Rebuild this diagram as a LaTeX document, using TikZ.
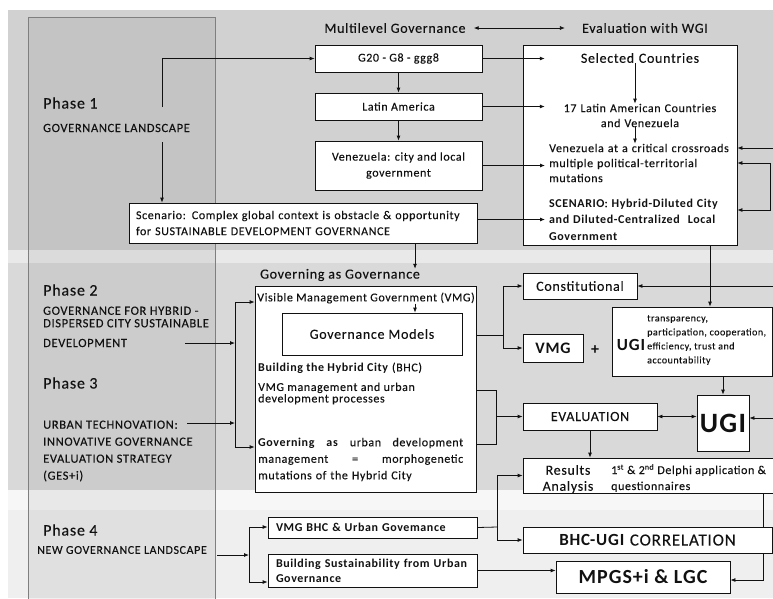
\documentclass[tikz,border=0pt]{standalone}
\usepackage{fontspec}
\setmainfont{Carlito}[LetterSpace=5, UprightFeatures={FakeBold=0.12}]
\usepackage{tikz}
\usetikzlibrary{arrows.meta,calc}
\definecolor{ink}{HTML}{111111}
\definecolor{bandA}{HTML}{D1D1D1}
\definecolor{bandB}{HTML}{D9D9D9}
\definecolor{bandC}{HTML}{EFEFEF}
\definecolor{gapA}{HTML}{E9E9E9}
\definecolor{gapB}{HTML}{F7F7F7}
\definecolor{frame}{HTML}{7F7F7F}
\newcommand\fsz[2]{\fontsize{#1}{#2}\selectfont}
\tikzset{
  box/.style={draw=ink, fill=white, line width=0.8pt, inner sep=0pt},
  txt/.style={inner sep=0pt, text=ink},
  wire/.style={draw=ink, line width=0.8pt},
  arr/.style={wire, -{Latex[length=5pt,width=4pt]}},
  darr/.style={wire, {Latex[length=5pt,width=4pt]}-{Latex[length=5pt,width=4pt]}},
  head/.style={txt, font=\fsz{14}{16}},
  body/.style={txt, font=\fsz{12}{15}},
  phase/.style={txt, anchor=west, font=\fsz{16}{18}},
  phtxt/.style={txt, anchor=west, align=left, font=\fsz{12.5}{14}},
}

\begin{document}
\begin{tikzpicture}[x=1pt, y=-1pt]
  \useasboundingbox (0,0) rectangle (773,598);
  \fill[white] (0,0) rectangle (773,598);

  % bands and the phase column
  \fill[bandA] (8,10) rectangle (773,250);
  \fill[gapA] (8,250) rectangle (773,263);
  \fill[bandB] (8,263) rectangle (773,490);
  \fill[gapB] (8,490) rectangle (773,510);
  \fill[bandC] (8,510) rectangle (773,598);
  \filldraw[draw=frame, fill=black, fill opacity=0.06, line width=0.6pt] (28,17) rectangle (215,600);

  % phases
  \node[phase] (ph1) at (43,103) {Phase 1};
  \node[phtxt] (ph1t) at (43,128) {GOVERNANCE LANDSCAPE};
  \node[phase] (ph2) at (43,290) {Phase 2};
  \node[phtxt, font=\fsz{12.5}{12.5}] (ph2t) at (43,317) {GOVERNANCE FOR HYBRID -\\DISPERSED CITY SUSTAINABLE};
  \node[phtxt] (ph2d) at (43,343) {DEVELOPMENT};
  \node[phase] (ph3) at (43,383) {Phase 3};
  \node[phtxt, font=\fsz{12.5}{17}] (ph3t) at (43,451) {URBAN TECHNOVATION:\\INNOVATIVE GOVERNANCE\\EVALUATION STRATEGY\\(GES+i)};
  \node[phase] (ph4) at (43,530) {Phase 4};
  \node[phtxt, font=\fsz{12}{14}] (ph4t) at (37,550) {NEW GOVERNANCE LANDSCAPE};

  % phase 1: multilevel governance
  \node[head] (mlg) at (395,28) {Multilevel Governance};
  \node[head] (ewg) at (645,28) {Evaluation with WGI};
  \draw[darr] ([xshift=8pt]mlg.east) -- ([xshift=-17pt]ewg.west);

  \node[box, body, minimum width=167pt, minimum height=27pt] (g20) at (398.5,58.5) {G20 - G8 - ggg8};
  \node[box, body, minimum width=167pt, minimum height=27pt] (latbox) at (398.5,106.5) {Latin America};
  \node[box, body, minimum width=167pt, minimum height=49pt, align=center, font=\fsz{12}{16}] (venbox) at (398.5,165.5) {Venezuela: city and local\\government};
  \node[box, body, minimum width=348pt, minimum height=40pt, text width=334pt, align=left, font=\fsz{12}{16}] (scenbox) at (303,223) {Scenario: Complex global context is obstacle \& opportunity\\for SUSTAINABLE DEVELOPMENT GOVERNANCE};
  \draw[arr] (g20) -- (latbox);
  \draw[arr] (latbox) -- (venbox);

  \coordinate (p1up) at (162,107);
  \coordinate (p1dn) at (162,142);
  \draw[arr] (p1up) |- (g20.west);
  \draw[arr] (p1dn) -- (p1dn |- scenbox.north);

  % evaluation with WGI
  \node[box, minimum width=214pt, minimum height=200pt] (wgi) at (630,145) {};
  \node[head, text width=190pt, align=center] (sel) at (640,58) {Selected Countries};
  \node[body, text width=190pt, align=center] (lat17) at (640,115.5) {17 Latin American Countries\\and Venezuela};
  \node[body, anchor=west, inner xsep=4pt, text width=185pt, align=left] (crit) at (545,163) {Venezuela at a critical crossroads\\multiple political-territorial\\mutations};
  \node[body, anchor=west, inner xsep=4pt, text width=185pt, align=left, font=\bfseries\fsz{12}{16.5}] (scen) at (545,219.5) {SCENARIO{\mdseries:} Hybrid-Diluted City\\and Diluted-Centralized\ \ Local\\Government};
  \draw[arr] ([xshift=-5pt]sel.south) -- ([xshift=-5pt]lat17.north);
  \draw[arr] ([xshift=-5pt]lat17.south) -- ([xshift=-5pt]lat17.south |- crit.north);

  \draw[arr] (g20.east) -- (g20.east -| sel.west);
  \draw[arr] (latbox.east) -- (latbox.east -| lat17.west);
  \draw[arr] (venbox.east) -- (venbox.east -| crit.west);
  \draw[arr] (scenbox.east |- scen.west) -- (scen.west);

  \coordinate (rin1) at (775,148);
  \coordinate (rbr1) at (770,163);
  \coordinate (rbr2) at (770,210);
  \draw[arr] (rin1) -- (rin1 -| wgi.east);
  \draw[darr] (rbr1 -| wgi.east) -- (rbr1) -- (rbr2) -- (rbr2 -| wgi.east);

  % phases 2 and 3: governing as governance
  \node[head] (gag) at (340,275) {Governing as Governance};
  \coordinate (scS) at (415,0);
  \draw[arr] (scenbox.south -| scS) -- (gag.north -| scS);

  \node[box, minimum width=221pt, minimum height=206pt] (vmgbig) at (365.5,389) {};
  \node[body] (vis) at (366,298) {Visible Management Government (VMG)};
  \node[box, head, minimum width=180pt, minimum height=42pt] (gm) at (372,334) {Governance Models};
  \coordinate (gmA) at (415,0);
  \draw[arr] (vis.south -| gmA) -- (gm.north -| gmA);
  \node[body, anchor=west] (bhc) at (258,368) {\textbf{Building the Hybrid City} (BHC)};
  \node[body, anchor=west, align=left, font=\fsz{12}{11.5}] (proc) at (258,393.5) {VMG management and urban\\development processes};
  \node[body, anchor=west, align=left, text width=205pt, font=\fsz{12}{16.5}] (gov) at (258,459.5) {\textbf{Governing}\hfill\textbf{as}\hfill urban\hfill development\\management\hfill=\hfill morphogenetic\\mutations of the Hybrid City};

  \coordinate (lbT) at (235,302);
  \coordinate (lbB) at (235,447);
  \coordinate (p2a) at (185,343);
  \coordinate (p3a) at (187,423);
  \draw[wire] (lbT) -- (lbB);
  \draw[arr] (lbT) -- (lbT -| vmgbig.west);
  \draw[arr] (lbB) -- (lbB -| vmgbig.west);
  \draw[arr] (p2a) -- (p2a -| lbT);
  \draw[arr] (p3a) -- (p3a -| lbT);

  \node[box, head, minimum width=114pt, minimum height=26pt] (const) at (580,286) {Constitutional};
  \node[box, body, minimum width=60pt, minimum height=28pt, font=\bfseries\fsz{16}{18}] (vmgs) at (553,348) {VMG};
  \node[txt, font=\bfseries\fsz{16}{18}] (plus) at (595,350) {+};
  \node[box, minimum width=160pt, minimum height=69pt] (ugiinfo) at (692,341.5) {};
  \node[txt, font=\bfseries\fsz{17}{19}] (ugiA) at (631,345) {UGI};
  \node[txt, anchor=west, align=left, font=\fsz{10}{14}] (ugiB) at (647,340) {transparency,\\participation, cooperation,\\efficiency, trust and\\accountability};

  \coordinate (rbA) at (503,335);
  \draw[wire] (rbA -| vmgbig.east) -- (rbA);
  \draw[arr] (rbA) |- (const.west);
  \draw[arr] (rbA) |- (vmgs.west);
  \coordinate (rin2) at (775,286);
  \draw[arr] (rin2) -- (const.east);
  \coordinate (wgS) at (710,0);
  \draw[arr] (wgi.south -| wgS) -- (ugiinfo.north -| wgS);

  \node[box, minimum width=52pt, minimum height=56pt, text=ink, font=\bfseries\fsz{28}{30}] (ugibox) at (723,423) {UGI};
  \node[box, head, minimum width=134pt, minimum height=27pt] (eval) at (590,416.5) {EVALUATION};
  \draw[arr] (ugiinfo.south -| ugibox.north) -- (ugibox.north);
  \coordinate (rin3) at (775,418);
  \draw[arr] (rin3) -- (rin3 -| ugibox.east);
  \draw[darr] (eval.east) -- (eval.east -| ugibox.west);

  \coordinate (rbB) at (496,390);
  \coordinate (rbC) at (496,444);
  \draw[wire] (rbB -| vmgbig.east) -- (rbB) -- (rbC) -- (rbC -| vmgbig.east);
  \draw[arr] (rbB |- eval.west) -- (eval.west);

  % results and correlation
  \node[box, minimum width=253pt, minimum height=35pt] (results) at (649.5,475.5) {};
  \node[head, align=center] (resA) at (568,479) {Results\\Analysis};
  \node[body, anchor=west, align=left, font=\fsz{12}{16}] (resB) at (611,478) {1\textsuperscript{st} \& 2\textsuperscript{nd} Delphi application \&\\questionnaires};
  \draw[arr] (eval.south) -- (eval.south |- results.north);

  \node[box, minimum width=249pt, minimum height=26pt, text=ink, font=\fsz{17}{19}] (bhcugi) at (647.5,540) {\textbf{BHC-UGI} CORRELATION};
  \node[box, minimum width=174pt, minimum height=32pt, text=ink, font=\bfseries\fsz{20}{22}] (mpgs) at (643,577) {MPGS+i \& LGC};
  \coordinate (rv) at (763,0);
  \coordinate (rvB) at (763,580);
  \draw[wire] (results.south -| rv) -- (bhcugi.north -| rv);
  \draw[arr] (bhcugi.south -| rv) -- (rvB) -- (rvB -| mpgs.east);

  % phase 4
  \node[box, body, minimum width=209pt, minimum height=21pt, text width=193pt, align=left, font=\bfseries\fsz{12}{14}] (vbu) at (372.5,527.5) {VMG BHC \& Urban Govemance};
  \node[box, body, minimum width=209pt, minimum height=33pt, text width=193pt, align=left, font=\bfseries\fsz{12}{15}] (bsu) at (372.5,570.5) {Building Sustainability from Urban\\Governance};

  \coordinate (p4a) at (217,555);
  \coordinate (lb4T) at (249,527);
  \coordinate (lb4B) at (249,582);
  \draw[arr] (p4a) -- (p4a -| lb4T);
  \draw[wire] (lb4T) -- (lb4B);
  \draw[arr] (lb4T) -- (lb4T -| vbu.west);
  \draw[arr] (lb4B) -- (lb4B -| bsu.west);

  \coordinate (rb4) at (497,527);
  \draw[wire] (vbu.east) -- (rb4);
  \draw[arr] (rb4) |- (results.west);
  \draw[arr] (rb4) |- (bhcugi.west);
  \draw[arr] (bsu.east) -- (bsu.east -| mpgs.west);
\end{tikzpicture}
\end{document}
